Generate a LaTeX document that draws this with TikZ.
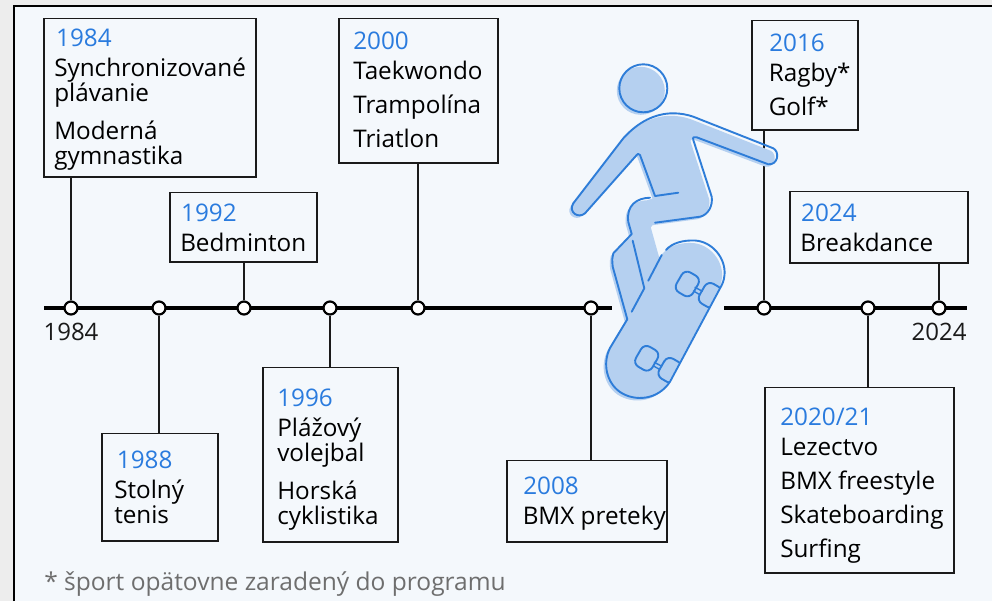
\documentclass[tikz,border=0pt]{standalone}
\usepackage{fontspec}
\setmainfont{Open Sans}
\definecolor{pagebg}{HTML}{EDEDED}
\definecolor{panel}{HTML}{F4F8FC}
\definecolor{yearblue}{HTML}{2A7BDE}
\definecolor{figfill}{HTML}{B5D0F0}
\definecolor{figline}{HTML}{2E7DD8}
\definecolor{ink}{HTML}{1A1A1A}
\definecolor{note}{HTML}{6E6E6E}
\newcommand{\yr}[1]{{\color{yearblue}#1}}
\newcommand{\lgap}[1]{\\[#1]}
\newcommand{\headpath}{(643.3,88.3) circle (24)}
\newcommand{\bodypath}{(573.3,203.3) -- (623.3,138.3) .. controls (638,122) and (655,113.3) .. (673.3,113.3) .. controls (680,113.3) and (687,114.5) .. (693.3,116.7) -- (773.3,148.3) .. controls (780,152) and (778,165) .. (768.3,164.3) -- (696.7,137.3) .. controls (694,136.5) and (692.5,137) .. (693.3,140) -- (711.7,196.7) .. controls (713,206) and (708,215) .. (700,216.7) -- (655,222.7) -- (653.3,225) -- (661.7,255) -- (666,250) .. controls (672,243) and (683,240) .. (695,240.5) .. controls (712,241.5) and (726,258) .. (724.5,275) .. controls (724,281) and (722,285) .. (720,288.3) -- (670,381.7) .. controls (658,400) and (635,402) .. (620,392) .. controls (607,383) and (602,364) .. (610,348) -- (627.3,319.3) -- (612.7,266.7) .. controls (612,260) and (612,257) .. (613.3,253.3) -- (631.7,234) -- (628.3,222) .. controls (626,205) and (637,198) .. (650,197.7) -- (655,196) -- (640,155) .. controls (639,153.5) and (637,153.5) .. (636.7,155) -- (585,213.3) .. controls (578,219) and (568,212) .. (573.3,203.3) -- cycle}
\newcommand{\boardclip}{(666,250) .. controls (672,243) and (683,240) .. (695,240.5) .. controls (712,241.5) and (726,258) .. (724.5,275) .. controls (724,281) and (722,285) .. (720,288.3) -- (670,381.7) .. controls (658,400) and (635,402) .. (620,392) .. controls (607,383) and (602,364) .. (610,348) -- cycle}
\tikzset{
  boxnode/.style={draw=ink,line width=1.5*0.75pt,inner sep=0pt,fill=none,anchor=north west},
  txt/.style={anchor=north west,inner sep=0pt,align=left,text=black,font=\fontsize{18.2}{18.75}\selectfont},
  stem/.style={draw=ink,line width=1.7*0.75pt},
  axis/.style={draw=black,line width=3.2*0.75pt},
  tick/.style={circle,draw=black,fill=white,line width=2.2*0.75pt,minimum size=13*0.75pt,inner sep=0pt},
  axlabel/.style={font=\fontsize{18}{20}\selectfont,text=ink,inner sep=0pt,anchor=base},
  figstroke/.style={draw=figline,line width=1.9*0.75pt,line join=round,line cap=round},
}
\newcommand{\boxat}[5]{\node[boxnode,minimum width=#4*0.75pt+0.2pt,minimum height=#5*0.75pt-0.3pt] (#1) at (#2-1,#3-0.5) {};}
\begin{document}
\begin{tikzpicture}[x=0.75pt,y=-0.75pt]
\useasboundingbox (0,0) rectangle (992,601);
\fill[pagebg] (0,0) rectangle (992,601);
\fill[panel] (13,5) rectangle (992,601);
\draw[black,line width=1.5pt] (13.5,601) -- (13.5,5.5) -- (992,5.5);
% boxes
\boxat{b84}{44}{18}{212}{159}
\boxat{b92}{170}{192}{147}{70}
\boxat{b00}{339}{18}{159}{145}
\boxat{b16}{752}{20}{106}{110}
\boxat{b24}{790}{191}{178}{72}
\boxat{b88}{102}{433}{116}{108}
\boxat{b96}{263}{367}{135}{175}
\boxat{b08}{507}{460}{160}{82}
\boxat{b20}{765}{387}{189}{186}
% timeline
\coordinate (a1) at (44,308); \coordinate (a2) at (612,308);
\coordinate (a3) at (724,308); \coordinate (a4) at (967,308);
\draw[axis] (a1) -- (a2); \draw[axis] (a3) -- (a4);
\node[tick] (t84) at (71,308) {};
\node[tick] (t88) at (159,308) {};
\node[tick] (t92) at (244,308) {};
\node[tick] (t96) at (330,308) {};
\node[tick] (t00) at (418,308) {};
\node[tick] (t08) at (591,308) {};
\node[tick] (t16) at (764,308) {};
\node[tick] (t20) at (868,308) {};
\node[tick] (t24) at (939,308) {};
% stems
\draw[stem] (t84) -- (t84 |- b84.south);
\draw[stem] (t88) -- (t88 |- b88.north);
\draw[stem] (t92) -- (t92 |- b92.south);
\draw[stem] (t96) -- (t96 |- b96.north);
\draw[stem] (t00) -- (t00 |- b00.south);
\draw[stem] (t08) -- (t08 |- b08.north);
\draw[stem] (t16) -- (t16 |- b16.south);
\draw[stem] (t20) -- (t20 |- b20.north);
\draw[stem] (t24) -- (t24 |- b24.south);
% figure
\begin{scope}[shift={(-2.5,2.5)}]
\fill[figfill] \headpath;
\fill[figfill] \bodypath;
\end{scope}
\begin{scope}
\draw[figstroke] \headpath;
\draw[figstroke] (573.3,203.3) -- (623.3,138.3) .. controls (638,122) and (655,113.3) .. (673.3,113.3) .. controls (680,113.3) and (687,114.5) .. (693.3,116.7) -- (773.3,148.3) .. controls (780,152) and (778,165) .. (768.3,164.3) -- (696.7,137.3) .. controls (694,136.5) and (692.5,137) .. (693.3,140) -- (711.7,196.7) .. controls (713,206) and (708,215) .. (700,216.7) -- (655,222.7);
\draw[figstroke] (650,197.7) .. controls (637,198) and (626,205) .. (628.3,222) -- (631.7,234) -- (613.3,253.3) .. controls (612,257) and (612,260) .. (612.7,266.7) -- (627.3,319.3) -- (610,348) .. controls (602,364) and (607,383) .. (620,392) .. controls (635,402) and (658,400) .. (670,381.7) -- (720,288.3) .. controls (722,285) and (724,281) .. (724.5,275) .. controls (726,258) and (712,241.5) .. (695,240.5) .. controls (683,240) and (672,243) .. (666,250);
\draw[figstroke] (678.3,192.7) -- (655,196) -- (640,155) .. controls (639,153.5) and (637,153.5) .. (636.7,155) -- (585,213.3) .. controls (578,219) and (568,212) .. (573.3,203.3);
\draw[figstroke] (632.7,240.7) -- (644.3,288.3) -- (631.7,311.7);
\draw[figstroke] (661.7,255) -- (648.3,280.7);
\begin{scope}
\clip \boardclip;
\foreach \cx/\cy in {687.3/284,710.3/295.3,646.7/358.3,670/370.3}{
  \draw[figstroke,rotate around={-30:(\cx,\cy)},rounded corners=6.5*0.75pt] (\cx-9.5,\cy-11.5) rectangle (\cx+9.5,\cy+11.5);
}
\end{scope}
\draw[figstroke,line width=1.4*0.75pt] (695,287.3) -- (702.3,291.2);
\draw[figstroke,line width=1.4*0.75pt] (693.5,291) -- (700,294.8);
\draw[figstroke,line width=1.4*0.75pt] (654.3,362.3) -- (661.7,366.2);
\draw[figstroke,line width=1.4*0.75pt] (653.5,366) -- (660,369.6);
\end{scope}
% text
\node[txt] (l84) at (54,29) {\yr{\hspace*{1.4pt}1984}\lgap{3.25pt}Synchronizované\\plávanie\lgap{9.75pt}Moderná\\gymnastika};
\node[txt] (l92) at (180,204) {\yr{\hspace*{0.7pt}1992}\lgap{3.75pt}Bedminton};
\node[txt] (l00) at (353,32) {\yr{2000}\lgap{3.75pt}Taekwondo\lgap{6.75pt}Trampolína\lgap{6.75pt}Triatlon};
\node[txt] (l16) at (768.5,34) {\yr{\hspace*{0.4pt}2016}\lgap{3.75pt}Ragby*\lgap{6.75pt}Golf*};
\node[txt] (l24) at (800,204) {\yr{\hspace*{0.7pt}2024}\lgap{3.75pt}Breakdance};
\node[txt] (l88) at (114,451) {\yr{\hspace*{2pt}1988}\lgap{3.75pt}Stolný\\tenis};
\node[txt] (l96) at (277,389) {\yr{1996}\lgap{3.25pt}Plážový\\volejbal\lgap{9.75pt}Horská\\cyklistika};
\node[txt] (l08) at (522.5,477) {\yr{\hspace*{0.4pt}2008}\lgap{3.75pt}BMX preteky};
\node[txt] (l20) at (780,408) {\yr{2020/21}\lgap{3.75pt}Lezectvo\lgap{6.75pt}BMX freestyle\lgap{6.75pt}Skateboarding\lgap{6.75pt}Surfing};
\node[axlabel] (y1) at (71,340) {1984};
\node[axlabel] (y2) at (939,340) {2024};
\node[anchor=base west,inner sep=0pt,text=note,font=\fontsize{18.4}{18}\selectfont] (fn) at (44,590) {* šport opätovne zaradený do programu};
\end{tikzpicture}
\end{document}
